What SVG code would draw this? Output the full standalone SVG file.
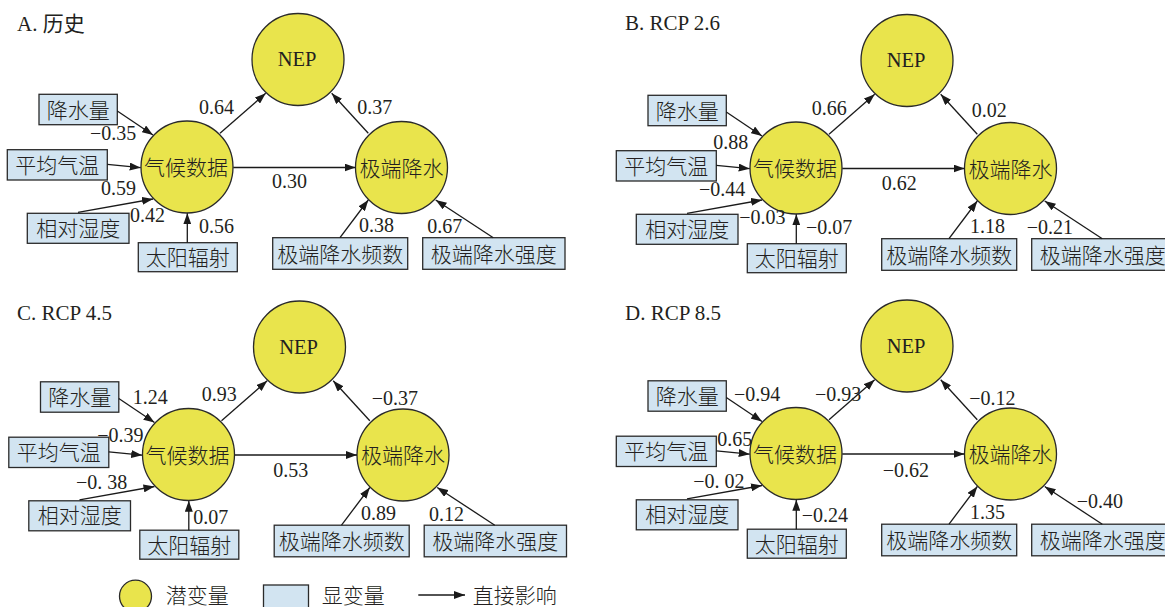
<svg xmlns="http://www.w3.org/2000/svg" width="1165" height="607" viewBox="0 0 1165 607">
<style>
.bg{fill:#ffffff}
.lat{fill:#e9e44c;stroke:#2a2a2a;stroke-width:1.3}
.obs{fill:#d2e4f1;stroke:#2a2a2a;stroke-width:1.3}
.cn{font-family:"Liberation Serif","Noto Sans CJK SC",serif;font-size:21px;font-weight:300;fill:#231f20;text-anchor:middle}
.cnl{font-family:"Liberation Serif","Noto Sans CJK SC",serif;font-size:21px;font-weight:300;fill:#231f20}
.lt{font-family:"Liberation Serif","Times New Roman",serif;font-size:20.5px;fill:#231f20;text-anchor:middle}
.num{font-family:"Liberation Serif","Times New Roman",serif;font-size:20px;fill:#231f20}
.ttl{font-family:"Liberation Serif","Noto Sans CJK SC",serif;font-size:21px;fill:#231f20}
.edge{fill:none;stroke:#1a1a1a;stroke-width:1.3;marker-end:url(#ah)}
</style>
<defs>
<marker id="ah" viewBox="0 0 11 8" refX="11" refY="4" markerWidth="11" markerHeight="8" markerUnits="userSpaceOnUse" orient="auto"><path d="M0,0 L11,4 L0,8 z" fill="#1a1a1a"/></marker>
</defs>
<rect class="bg" x="0" y="0" width="1165" height="607"/>

<g id="titles">
<text class="ttl" x="17" y="31">A. 历史</text>
<text class="ttl" x="625" y="29.5">B. RCP 2.6</text>
<text class="ttl" x="17" y="319.5">C. RCP 4.5</text>
<text class="ttl" x="625" y="319.5">D. RCP 8.5</text>
</g>

<!-- Panel A -->
<g id="panelA">
<g id="A-NEP"><circle class="lat" cx="298" cy="59.5" r="46"/><text class="lt" x="297" y="66">NEP</text></g>
<g id="A-climate"><circle class="lat" cx="187" cy="167" r="46"/><text class="cn" x="186" y="175">气候数据</text></g>
<g id="A-extreme"><circle class="lat" cx="401.5" cy="167.5" r="46"/><text class="cn" x="401.5" y="175.5">极端降水</text></g>
<g id="A-precip"><rect class="obs" x="39" y="94.3" width="78.3" height="30.4"/><text class="cn" x="78.2" y="117.5">降水量</text></g>
<g id="A-temp"><rect class="obs" x="7.3" y="149.7" width="100" height="30.3"/><text class="cn" x="57.3" y="172.5">平均气温</text></g>
<g id="A-humid"><rect class="obs" x="27.3" y="213.3" width="101.7" height="30"/><text class="cn" x="78.2" y="235.5">相对湿度</text></g>
<g id="A-solar"><rect class="obs" x="138.3" y="242.7" width="99" height="29"/><text class="cn" x="187.8" y="265">太阳辐射</text></g>
<g id="A-freq"><rect class="obs" x="272.7" y="237.7" width="135" height="31.6"/><text class="cn" x="340.2" y="261.5">极端降水频数</text></g>
<g id="A-inten"><rect class="obs" x="422.7" y="237.7" width="142.3" height="31.6"/><text class="cn" x="493.8" y="261.5">极端降水强度</text></g>
<g id="A-connectors">
<path class="edge" d="M117.3,111 L153,135"/>
<path class="edge" d="M107.3,164.3 L140.7,167.7"/>
<path class="edge" d="M78,212.3 L153,199"/>
<path class="edge" d="M187.3,242.7 L187.3,213.3"/>
<path class="edge" d="M220,133.3 L265.7,93.3"/>
<path class="edge" d="M233.3,167.5 L355.5,167.5"/>
<path class="edge" d="M368.3,133.3 L331.7,93.3"/>
<path class="edge" d="M340,237.7 L368.3,200"/>
<path class="edge" d="M493.3,237.7 L435.7,200"/>
<text class="num" x="199" y="114.3">0.64</text>
<text class="num" x="90" y="140">−0.35</text>
<text class="num" x="101" y="195">0.59</text>
<text class="num" x="130" y="221.7">0.42</text>
<text class="num" x="199" y="233.3">0.56</text>
<text class="num" x="272" y="188.3">0.30</text>
<text class="num" x="357.3" y="114.3">0.37</text>
<text class="num" x="359" y="231.7">0.38</text>
<text class="num" x="427.3" y="233.3">0.67</text>
</g>
</g>

<!-- Panel B -->
<g id="panelB" transform="translate(609,1)">
<g id="B-NEP"><circle class="lat" cx="298" cy="59.5" r="46"/><text class="lt" x="297" y="66">NEP</text></g>
<g id="B-climate"><circle class="lat" cx="187" cy="167" r="46"/><text class="cn" x="186" y="175">气候数据</text></g>
<g id="B-extreme"><circle class="lat" cx="401.5" cy="167.5" r="46"/><text class="cn" x="401.5" y="175.5">极端降水</text></g>
<g id="B-precip"><rect class="obs" x="39" y="94.3" width="78.3" height="30.4"/><text class="cn" x="78.2" y="117.5">降水量</text></g>
<g id="B-temp"><rect class="obs" x="7.3" y="149.7" width="100" height="30.3"/><text class="cn" x="57.3" y="172.5">平均气温</text></g>
<g id="B-humid"><rect class="obs" x="27.3" y="213.3" width="101.7" height="30"/><text class="cn" x="78.2" y="235.5">相对湿度</text></g>
<g id="B-solar"><rect class="obs" x="138.3" y="242.7" width="99" height="29"/><text class="cn" x="187.8" y="265">太阳辐射</text></g>
<g id="B-freq"><rect class="obs" x="272.7" y="237.7" width="135" height="31.6"/><text class="cn" x="340.2" y="261.5">极端降水频数</text></g>
<g id="B-inten"><rect class="obs" x="422.7" y="237.7" width="142.3" height="31.6"/><text class="cn" x="493.8" y="261.5">极端降水强度</text></g>
<g id="B-connectors">
<path class="edge" d="M117.3,111 L153,135"/>
<path class="edge" d="M107.3,164.3 L140.7,167.7"/>
<path class="edge" d="M78,212.3 L153,199"/>
<path class="edge" d="M187.3,242.7 L187.3,213.3"/>
<path class="edge" d="M220,133.3 L265.7,93.3"/>
<path class="edge" d="M233.3,167.5 L355.5,167.5"/>
<path class="edge" d="M368.3,133.3 L331.7,93.3"/>
<path class="edge" d="M340,237.7 L368.3,200"/>
<path class="edge" d="M493.3,237.7 L435.7,200"/>
<text class="num" x="202.7" y="114">0.66</text>
<text class="num" x="104.3" y="148.3">0.88</text>
<text class="num" x="90" y="195">−0.44</text>
<text class="num" x="130.3" y="223">−0.03</text>
<text class="num" x="197" y="233.3">−0.07</text>
<text class="num" x="272.7" y="189">0.62</text>
<text class="num" x="362.7" y="115.7">0.02</text>
<text class="num" x="361" y="232.3">1.18</text>
<text class="num" x="417.7" y="233.3">−0.21</text>
</g>
</g>

<!-- Panel C -->
<g id="panelC" transform="translate(1.5,287.5)">
<g id="C-NEP"><circle class="lat" cx="298" cy="59.5" r="46"/><text class="lt" x="297" y="66">NEP</text></g>
<g id="C-climate"><circle class="lat" cx="187" cy="167" r="46"/><text class="cn" x="186" y="175">气候数据</text></g>
<g id="C-extreme"><circle class="lat" cx="401.5" cy="167.5" r="46"/><text class="cn" x="401.5" y="175.5">极端降水</text></g>
<g id="C-precip"><rect class="obs" x="39" y="94.3" width="78.3" height="30.4"/><text class="cn" x="78.2" y="117.5">降水量</text></g>
<g id="C-temp"><rect class="obs" x="7.3" y="149.7" width="100" height="30.3"/><text class="cn" x="57.3" y="172.5">平均气温</text></g>
<g id="C-humid"><rect class="obs" x="27.3" y="213.3" width="101.7" height="30"/><text class="cn" x="78.2" y="235.5">相对湿度</text></g>
<g id="C-solar"><rect class="obs" x="138.3" y="242.7" width="99" height="29"/><text class="cn" x="187.8" y="265">太阳辐射</text></g>
<g id="C-freq"><rect class="obs" x="272.7" y="237.7" width="135" height="31.6"/><text class="cn" x="340.2" y="261.5">极端降水频数</text></g>
<g id="C-inten"><rect class="obs" x="422.7" y="237.7" width="142.3" height="31.6"/><text class="cn" x="493.8" y="261.5">极端降水强度</text></g>
<g id="C-connectors">
<path class="edge" d="M117.3,111 L153,135"/>
<path class="edge" d="M107.3,164.3 L140.7,167.7"/>
<path class="edge" d="M78,212.3 L153,199"/>
<path class="edge" d="M187.3,242.7 L187.3,213.3"/>
<path class="edge" d="M220,133.3 L265.7,93.3"/>
<path class="edge" d="M233.3,167.5 L355.5,167.5"/>
<path class="edge" d="M368.3,133.3 L331.7,93.3"/>
<path class="edge" d="M340,237.7 L368.3,200"/>
<path class="edge" d="M493.3,237.7 L435.7,200"/>
<text class="num" x="131.2" y="116.8">1.24</text>
<text class="num" x="200.2" y="113.5">0.93</text>
<text class="num" x="95.8" y="154.2">−0.39</text>
<text class="num" x="74.5" y="201.8">−0. 38</text>
<text class="num" x="191.8" y="236.8">0.07</text>
<text class="num" x="271.8" y="189.2">0.53</text>
<text class="num" x="370.2" y="117.5">−0.37</text>
<text class="num" x="359.5" y="232.5">0.89</text>
<text class="num" x="427.5" y="233.5">0.12</text>
</g>
</g>

<!-- Panel D -->
<g id="panelD" transform="translate(609,286.5)">
<g id="D-NEP"><circle class="lat" cx="298" cy="59.5" r="46"/><text class="lt" x="297" y="66">NEP</text></g>
<g id="D-climate"><circle class="lat" cx="187" cy="167" r="46"/><text class="cn" x="186" y="175">气候数据</text></g>
<g id="D-extreme"><circle class="lat" cx="401.5" cy="167.5" r="46"/><text class="cn" x="401.5" y="175.5">极端降水</text></g>
<g id="D-precip"><rect class="obs" x="39" y="94.3" width="78.3" height="30.4"/><text class="cn" x="78.2" y="117.5">降水量</text></g>
<g id="D-temp"><rect class="obs" x="7.3" y="149.7" width="100" height="30.3"/><text class="cn" x="57.3" y="172.5">平均气温</text></g>
<g id="D-humid"><rect class="obs" x="27.3" y="213.3" width="101.7" height="30"/><text class="cn" x="78.2" y="235.5">相对湿度</text></g>
<g id="D-solar"><rect class="obs" x="138.3" y="242.7" width="99" height="29"/><text class="cn" x="187.8" y="265">太阳辐射</text></g>
<g id="D-freq"><rect class="obs" x="272.7" y="237.7" width="135" height="31.6"/><text class="cn" x="340.2" y="261.5">极端降水频数</text></g>
<g id="D-inten"><rect class="obs" x="422.7" y="237.7" width="142.3" height="31.6"/><text class="cn" x="493.8" y="261.5">极端降水强度</text></g>
<g id="D-connectors">
<path class="edge" d="M117.3,111 L153,135"/>
<path class="edge" d="M107.3,164.3 L140.7,167.7"/>
<path class="edge" d="M78,212.3 L153,199"/>
<path class="edge" d="M187.3,242.7 L187.3,213.3"/>
<path class="edge" d="M220,133.3 L265.7,93.3"/>
<path class="edge" d="M233.3,167.5 L355.5,167.5"/>
<path class="edge" d="M368.3,133.3 L331.7,93.3"/>
<path class="edge" d="M340,237.7 L368.3,200"/>
<path class="edge" d="M493.3,237.7 L435.7,200"/>
<text class="num" x="125" y="114.5">−0.94</text>
<text class="num" x="206" y="114.5">−0.93</text>
<text class="num" x="108.3" y="159.5">0.65</text>
<text class="num" x="84.3" y="201.2">−0. 02</text>
<text class="num" x="192.7" y="235.2">−0.24</text>
<text class="num" x="273.7" y="190.2">−0.62</text>
<text class="num" x="360.3" y="118.5">−0.12</text>
<text class="num" x="361" y="232.8">1.35</text>
<text class="num" x="467.7" y="221.8">−0.40</text>
</g>
</g>

<!-- Legend -->
<g id="legend">
<g id="legend-latent"><circle class="lat" cx="135.5" cy="596.2" r="16"/><text class="cnl" x="165.7" y="602.5">潜变量</text></g>
<g id="legend-observed"><rect class="obs" x="263.5" y="585" width="45" height="30"/><text class="cnl" x="321.7" y="602.5">显变量</text></g>
<g id="legend-arrow"><path class="edge" d="M418.3,595 L465,595"/><text class="cnl" x="472.7" y="602.5">直接影响</text></g>
</g>
</svg>
